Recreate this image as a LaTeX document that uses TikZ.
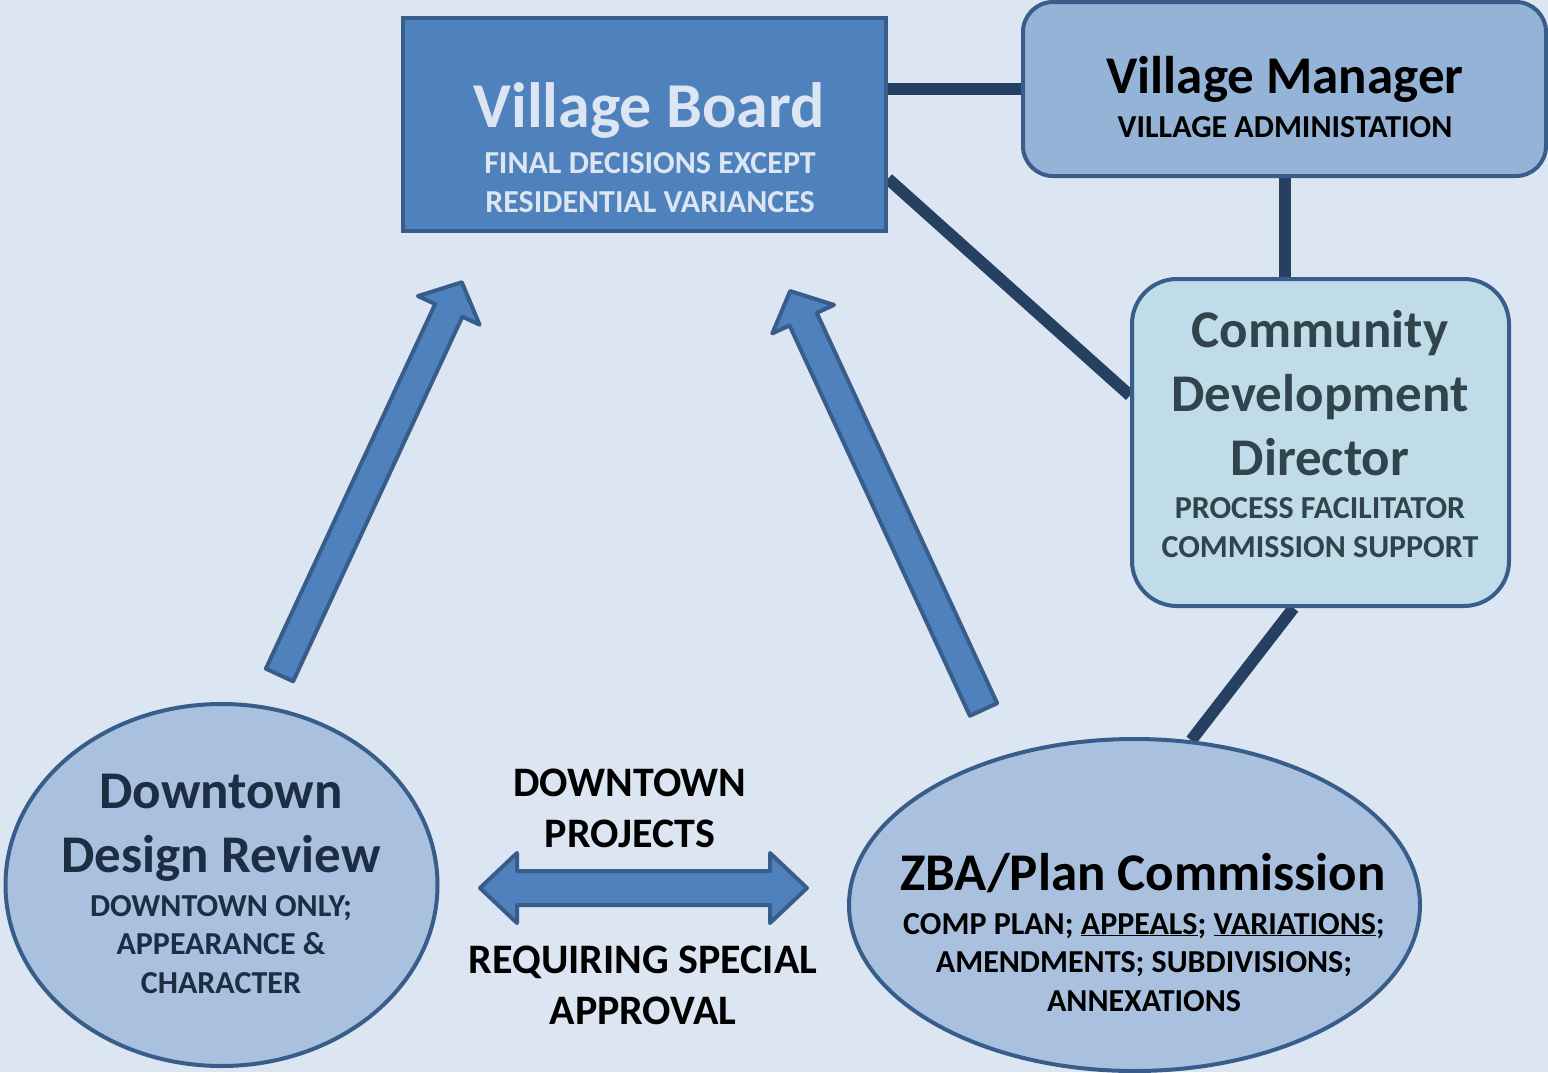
\documentclass[tikz,border=0pt]{standalone}
\usepackage{fontspec}
\setmainfont{Carlito}
\usetikzlibrary{shapes.geometric, calc, backgrounds}

\definecolor{canvas}{HTML}{DCE6F2}
\definecolor{boardfill}{HTML}{4F81BD}
\definecolor{edgeblue}{HTML}{385D8A}
\definecolor{boardtext}{HTML}{DCE6F2}
\definecolor{managerfill}{HTML}{95B3D7}
\definecolor{cddfill}{HTML}{C0DCE8}
\definecolor{cddtext}{HTML}{31434B}
\definecolor{ovalfill}{HTML}{A9C1DE}
\definecolor{ddrtext}{HTML}{1C2D44}
\definecolor{linkcol}{HTML}{254061}

\tikzset{
  box/.style        = {draw=edgeblue, line width=4pt, inner sep=0pt},
  board/.style      = {box, fill=boardfill, minimum width=483pt, minimum height=213pt},
  manager/.style    = {box, fill=managerfill, rounded corners=30pt,
                       minimum width=523pt, minimum height=174pt},
  director/.style   = {box, fill=cddfill, rounded corners=45pt,
                       minimum width=377pt, minimum height=327pt},
  oval/.style       = {box, ellipse, fill=ovalfill},
  % text lines, placed by the baseline of their last line
  head/.style       = {font=\bfseries\fontsize{53}{64}\selectfont, anchor=base,
                       inner sep=0pt, align=center},
  bighead/.style    = {head, font=\bfseries\fontsize{64}{76}\selectfont},
  sub/.style        = {font=\bfseries\fontsize{32}{38.5}\selectfont, anchor=base,
                       inner sep=0pt, align=center},
  note/.style       = {font=\bfseries\fontsize{42}{51}\selectfont, anchor=base,
                       inner sep=0pt, align=center},
  link/.style       = {draw=linkcol, line width=12pt},
  blockarrow/.style = {draw=edgeblue, fill=boardfill, line width=4pt, line join=round},
}

% block arrow from a tail point, rotated by #2, length #3
\newcommand{\blockup}[3]{%
  \begin{scope}[shift={(#1)}, rotate=#2]
    \draw[blockarrow] (0,-15) -- ({#3-31},-15) -- ({#3-31},-34) -- (#3,0)
      -- ({#3-31},34) -- ({#3-31},15) -- (0,15) -- cycle;
  \end{scope}}

\begin{document}
\begin{tikzpicture}[x=1pt, y=-1pt]
\useasboundingbox (0,0) rectangle (1548,1072);

% ===== boxes =====
\node[board]    (board)   at (644.5,124.5) {};
\node[manager]  (manager) at (1284.5,89)   {};
\node[director] (cdd)     at (1320.5,442.5) {};
\node[oval, minimum width=432pt, minimum height=362pt] (ddr) at (221.5,885) {};
\node[oval, minimum width=571pt, minimum height=332pt] (zba) at (1134.5,905) {};

% ===== texts =====
\node[bighead, text=boardtext] (boardT) at (649,127) {Village Board};
\node[sub, text=boardtext]     (boardS) at (650,212)
  {FINAL DECISIONS EXCEPT\\RESIDENTIAL VARIANCES};

\node[head] (managerT) at (1285,93)  {Village Manager};
\node[sub]  (managerS) at (1285,137) {VILLAGE ADMINISTATION};

\node[head, text=cddtext] (cddT) at (1320,475) {Community\\Development\\Director};
\node[sub,  text=cddtext] (cddS) at (1320,557) {PROCESS FACILITATOR\\COMMISSION SUPPORT};

\node[head, text=ddrtext] (ddrT) at (221,872) {Downtown\\Design Review};
\node[sub,  text=ddrtext] (ddrS) at (221,993) {DOWNTOWN ONLY;\\APPEARANCE \&\\CHARACTER};

\node[head] (zbaT) at (1143,890) {ZBA/Plan Commission};
\node[sub]  (zbaS) at (1144,1011)
  {COMP PLAN; \underline{APPEALS}; \underline{VARIATIONS};\\
   AMENDMENTS; SUBDIVISIONS;\\ANNEXATIONS};

\node[note] (topnote) at (630,847)  {DOWNTOWN\\PROJECTS};
\node[note] (botnote) at (643,1024) {REQUIRING SPECIAL\\APPROVAL};

% ===== block arrows =====
\coordinate (ddrTail) at (279.5,675);
\coordinate (zbaTail) at (983.5,709.5);
\blockup{ddrTail}{65.1}{433}
\blockup{zbaTail}{114.8}{461}

\coordinate (leftTip)  at (480,888);
\coordinate (rightTip) at (807,888);
\draw[blockarrow] (leftTip) -- ++(37,-35) -- ++(0,18) -- ++(253,0) -- ++(0,-18)
  -- (rightTip) -- ++(-37,35) -- ++(0,-18) -- ++(-253,0) -- ++(0,18) -- cycle;

% ===== links behind the boxes =====
\begin{scope}[on background layer]
  \fill[canvas] (0,0) rectangle (1548,1072);
  \draw[link] (manager.west) -- (manager.west -| board.east);
  \draw[link] ($(board.south east)!0.25!(board.north east)$) -- ([yshift=47pt]cdd.west);
  \draw[link] (manager.south) -- (manager.south |- cdd.north);
  \draw[link] ([xshift=-27pt]cdd.south) -- (zba.71);
\end{scope}

\end{tikzpicture}
\end{document}
